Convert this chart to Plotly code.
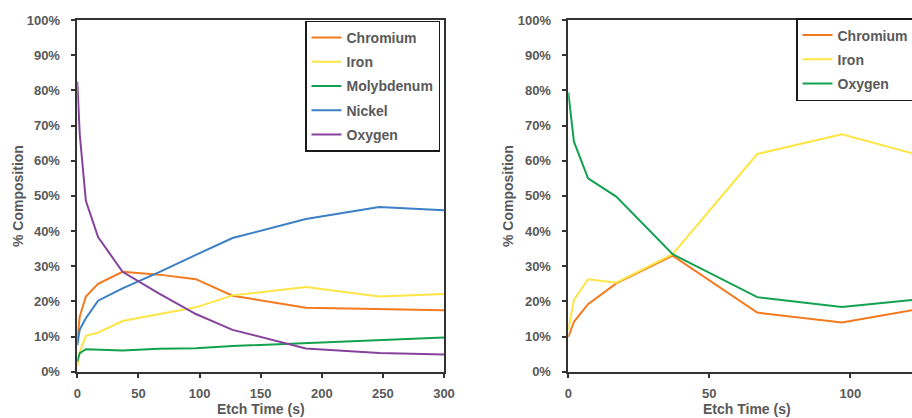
import plotly.graph_objects as go

# ---------------- data ----------------
etch_time_left = [0, 2, 7, 17, 37, 67, 97, 127, 187, 247, 300]
chromium_left = [9.0, 15.7, 21.4, 25.0, 28.4, 27.6, 26.3, 21.6, 18.2, 17.8, 17.5]
iron_left = [1.5, 5.7, 10.2, 11.1, 14.4, 16.3, 18.3, 21.7, 24.1, 21.4, 22.1]
molybdenum_left = [2.9, 5.3, 6.4, 6.2, 6.0, 6.5, 6.7, 7.3, 8.2, 9.0, 9.7]
nickel_left = [7.5, 12.0, 15.2, 20.2, 23.7, 28.3, 33.2, 38.0, 43.4, 46.8, 45.9]
oxygen_left = [82.5, 67.5, 48.6, 38.3, 28.4, 22.2, 16.4, 11.9, 6.6, 5.3, 4.9]

etch_time_right = [0, 2, 7, 17, 37, 67, 97, 127]
chromium_right = [9.8, 14.2, 19.2, 25.1, 33.0, 16.8, 14.0, 18.2]
iron_right = [11.9, 20.4, 26.3, 25.3, 33.4, 61.9, 67.5, 61.0]
oxygen_right = [79.4, 65.4, 55.0, 49.8, 33.4, 21.2, 18.4, 20.8]

y_ticks = list(range(0, 101, 10))
y_tick_labels = [f"{v}%" for v in y_ticks]

# ---------------- styles ----------------
W, H = 912, 418
C_CR = "#F47A1F"
C_FE = "#FDE545"
C_GREEN = "#12A24F"
C_NI = "#3B7FC4"
C_O = "#87439C"
TXT = "#595959"
AX = "#333333"
FAM = "Liberation Sans, Arial, sans-serif"


def px_x(p):
    return p / W


def px_y(p):
    return 1 - p / H


fig = go.Figure()

left_series = [
    ("Chromium", chromium_left, C_CR),
    ("Iron", iron_left, C_FE),
    ("Molybdenum", molybdenum_left, C_GREEN),
    ("Nickel", nickel_left, C_NI),
    ("Oxygen", oxygen_left, C_O),
]
for name, vals, col in left_series:
    fig.add_trace(go.Scatter(
        x=etch_time_left, y=vals, name=name, mode="lines",
        line=dict(color=col, width=2), xaxis="x", yaxis="y",
        legend="legend", legendgroup="L" + name,
    ))

right_series = [
    ("Chromium", chromium_right, C_CR),
    ("Iron", iron_right, C_FE),
    ("Oxygen", oxygen_right, C_GREEN),
]
for name, vals, col in right_series:
    fig.add_trace(go.Scatter(
        x=etch_time_right, y=vals, name=name, mode="lines",
        line=dict(color=col, width=2), xaxis="x2", yaxis="y2",
        legend="legend2", legendgroup="R" + name,
    ))

tickfont = dict(family=FAM, size=13, color=TXT, weight="bold")
axis_common = dict(
    showgrid=False, zeroline=False, showline=True, linecolor=AX, linewidth=1.5,
    ticks="outside", ticklen=5, tickwidth=1.5, tickcolor=AX, tickfont=tickfont,
)

ydom = [px_y(371.7), px_y(20)]
legend_font = dict(family=FAM, size=14, color=TXT, weight="bold")

fig.update_layout(
    width=W, height=H,
    margin=dict(l=0, r=0, t=0, b=0, autoexpand=False),
    paper_bgcolor="white", plot_bgcolor="white",
    xaxis=dict(domain=[px_x(77.3), px_x(444)], range=[0, 300], dtick=50,
               tick0=0, mirror=True, anchor="y", ticklabelstandoff=4, **axis_common),
    yaxis=dict(domain=ydom, range=[0, 100], tickvals=y_ticks, ticktext=y_tick_labels,
               mirror=True, anchor="x", ticklabelstandoff=8, **axis_common),
    xaxis2=dict(domain=[px_x(568.3), 1.0], range=[0, (W - 568.3) / 2.82], dtick=50,
                tick0=0, mirror=True, anchor="y2", ticklabelstandoff=4, **axis_common),
    yaxis2=dict(domain=ydom, range=[0, 100], tickvals=y_ticks, ticktext=y_tick_labels,
                anchor="x2", ticklabelstandoff=8, **axis_common),
    showlegend=True,
    legend=dict(x=px_x(305), y=px_y(20.5), xanchor="left", yanchor="top",
                bgcolor="white", bordercolor="#1a1a1a", borderwidth=1.5,
                font=legend_font, traceorder="grouped", tracegroupgap=3),
    legend2=dict(x=px_x(796), y=px_y(18), xanchor="left", yanchor="top",
                 bgcolor="white", bordercolor="#1a1a1a", borderwidth=1.5,
                 font=legend_font, traceorder="grouped", tracegroupgap=3),
)

title_font = dict(family=FAM, size=14, color=TXT, weight="bold")
annos = [
    dict(text="Etch Time (s)", x=px_x(260.6), y=px_y(409)),
    dict(text="Etch Time (s)", x=px_x(746.7), y=px_y(409)),
    dict(text="% Composition", x=px_x(18), y=px_y(196), textangle=-90),
    dict(text="% Composition", x=px_x(508), y=px_y(196), textangle=-90),
]
for a in annos:
    fig.add_annotation(xref="paper", yref="paper", showarrow=False,
                       xanchor="center", yanchor="middle", font=title_font, **a)

fig.write_html(
    "out.html",
    config={"displayModeBar": False},
    post_script="document.body.style.margin='0px';document.body.style.overflow='hidden';",
)
